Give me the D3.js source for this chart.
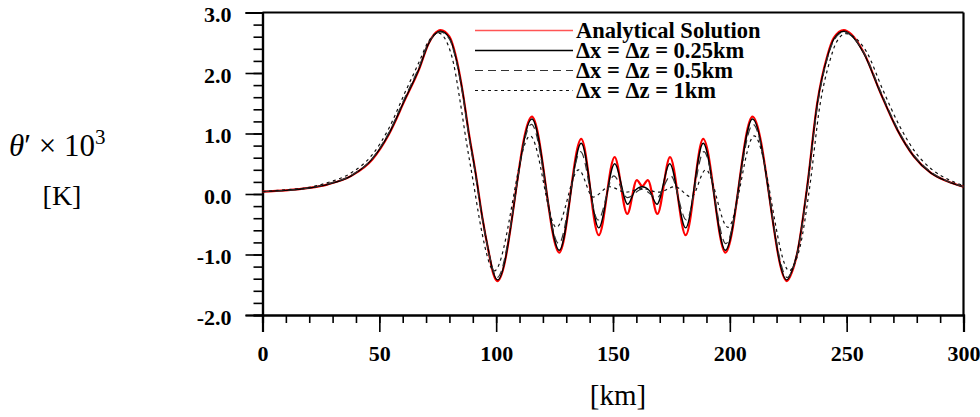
<!DOCTYPE html>
<html>
<head>
<meta charset="utf-8">
<script src="https://cdn.jsdelivr.net/npm/d3@7"></script>
<style>
  body { margin: 0; background: #fff; }
  svg { display: block; }
</style>
</head>
<body>
<svg width="980" height="417"></svg>
<script>
// values: [km, theta' x 1e3]
const analytical = [[0,0.04],[10,0.06],[20,0.10],[28,0.16],[38,0.30],[47,0.57],[54,0.98],[61,1.56],[67,2.06],[71,2.48],[73.5,2.64],[76.2,2.71],[80,2.60],[82.6,2.30],[85.5,1.73],[88.3,1.01],[91.2,0.35],[94,-0.37],[96.9,-0.98],[98.8,-1.32],[100.6,-1.44],[115.3,1.28],[127,-0.97],[136.4,0.91],[143.9,-0.68],[150.7,0.61],[156.1,-0.33],[160.2,0.23],[162.5,0.13],[164.9,0.23],[169,-0.33],[174.4,0.61],[181.1,-0.68],[188.6,0.91],[198.1,-0.97],[209.7,1.28],[224.4,-1.44],[226.5,-1.30],[229,-0.95],[233.1,0.12],[237.4,1.50],[241.7,2.28],[244.5,2.58],[248.8,2.71],[252,2.64],[257.4,2.33],[264.5,1.67],[271.7,1.06],[278.8,0.62],[286,0.35],[293.1,0.21],[300,0.12]];
const dx025 = [[0,0.04],[10,0.06],[20,0.10],[28,0.16],[38,0.30],[47,0.58],[54,0.99],[61,1.57],[67,2.07],[71,2.48],[73.5,2.63],[76.2,2.69],[80,2.58],[82.6,2.28],[85.5,1.72],[88.3,1.00],[91.2,0.34],[94,-0.37],[96.9,-0.97],[98.8,-1.30],[100.6,-1.42],[115.3,1.24],[127,-0.93],[136.4,0.84],[143.9,-0.56],[150.7,0.50],[156.3,-0.17],[159.5,0.06],[162.5,0.12],[165.5,0.06],[168.8,-0.17],[174.3,0.50],[181.1,-0.56],[188.6,0.84],[198.1,-0.93],[209.7,1.24],[224.4,-1.42],[226.5,-1.28],[229,-0.94],[233.1,0.12],[237.4,1.49],[241.7,2.26],[244.5,2.56],[248.8,2.69],[252,2.62],[257.4,2.32],[264.5,1.67],[271.7,1.06],[278.8,0.62],[286,0.35],[293.1,0.21],[300,0.12]];
const dx05 = [[0,0.04],[10,0.06],[20,0.10],[28,0.17],[38,0.31],[47,0.59],[54,1.01],[61,1.60],[67,2.10],[71,2.50],[73.5,2.63],[76,2.68],[80,2.56],[82.6,2.25],[85.5,1.68],[88.3,0.96],[91.2,0.30],[94,-0.40],[96.9,-0.98],[98.8,-1.27],[100.4,-1.38],[115.1,1.15],[126.8,-0.82],[136.1,0.70],[143.6,-0.43],[150.3,0.30],[156.2,-0.06],[162.5,0.08],[168.8,-0.06],[174.7,0.30],[181.4,-0.43],[188.9,0.70],[198.3,-0.82],[209.9,1.15],[224.6,-1.38],[226.6,-1.27],[229,-0.96],[233.2,0.10],[237.5,1.46],[241.8,2.25],[244.7,2.55],[249,2.68],[252.2,2.61],[257.6,2.32],[264.7,1.68],[271.9,1.07],[279,0.63],[286.2,0.36],[293.2,0.21],[300,0.12]];
const dx1 = [[0,0.04],[10,0.07],[20,0.11],[28,0.19],[38,0.35],[47,0.65],[54,1.08],[61,1.68],[67,2.18],[71,2.52],[73,2.62],[75.3,2.66],[79,2.50],[81.8,2.15],[84.5,1.55],[87.3,0.85],[90.2,0.20],[93,-0.45],[95.8,-0.97],[97.6,-1.20],[99.2,-1.27],[114.6,0.96],[125.8,-0.55],[135.3,0.40],[141.5,-0.05],[148.5,0.12],[155.5,0.03],[162.5,0.09],[169.5,0.03],[176.5,0.12],[183.5,-0.05],[189.7,0.40],[199.2,-0.55],[210.4,0.96],[225.5,-1.27],[227.3,-1.18],[230,-0.88],[234.2,0.12],[238.5,1.45],[242.8,2.20],[245.5,2.50],[249.6,2.65],[253,2.60],[258.5,2.35],[265.5,1.72],[272.7,1.12],[279.8,0.67],[287,0.39],[294,0.23],[300,0.14]];

const seriesNames = ["Analytical Solution", "\u0394x = \u0394z = 0.25km", "\u0394x = \u0394z = 0.5km", "\u0394x = \u0394z = 1km"];
const xMajor = [0, 50, 100, 150, 200, 250, 300];
const xMinor = d3.range(0, 301, 10);
const yMajor = [-2, -1, 0, 1, 2, 3];
const yMinor = d3.range(-2, 3.01, 0.2);

const svg = d3.select("svg");
const serif = "'Liberation Serif', 'Times New Roman', serif";

const x = d3.scaleLinear().domain([0, 300]).range([262.5, 963.5]);
const y = d3.scaleLinear().domain([-2, 3]).range([315, 12.5]);

// axes: minor then major ticks, outward
const gx = svg.append("g").attr("transform", "translate(0,315)");
gx.call(d3.axisBottom(x).tickValues(xMinor).tickSize(8).tickFormat(""));
gx.append("g").call(d3.axisBottom(x).tickValues(xMajor).tickSize(17).tickPadding(13).tickFormat(d => d));

const gy = svg.append("g").attr("transform", "translate(262.5,0)");
gy.call(d3.axisLeft(y).tickValues(yMinor).tickSize(9).tickFormat(""));
gy.append("g").call(d3.axisLeft(y).tickValues(yMajor).tickSize(17).tickPadding(14).tickFormat(d => d.toFixed(1)));

svg.selectAll(".domain").attr("stroke-width", 2.2);
svg.selectAll(".tick line").attr("stroke-width", 1.6);
svg.selectAll(".tick text")
    .attr("font-family", serif)
    .attr("font-weight", "bold")
    .attr("font-size", 22)
    .attr("fill", "#000");
gy.selectAll(".tick text").attr("dy", "0.42em");

// top and right frame
svg.append("line").attr("x1", x(0)).attr("x2", x(300)).attr("y1", y(3)).attr("y2", y(3))
    .attr("stroke", "#000").attr("stroke-width", 2.2);
svg.append("line").attr("x1", x(300)).attr("x2", x(300)).attr("y1", y(3)).attr("y2", y(-2))
    .attr("stroke", "#000").attr("stroke-width", 2.2);

const line = d3.line()
    .x(d => x(d[0]))
    .y(d => y(d[1]))
    .curve(d3.curveMonotoneX);

const styles = [
    {data: analytical, color: "#ff0000", width: 2.2, dash: null},
    {data: dx025, color: "#000", width: 1.4, dash: null},
    {data: dx05, color: "#333", width: 1.2, dash: "8,5"},
    {data: dx1, color: "#111", width: 1.2, dash: "3,3.5"}
];

styles.forEach(s => {
    svg.append("path")
        .datum(s.data)
        .attr("d", line)
        .attr("fill", "none")
        .attr("stroke", s.color)
        .attr("stroke-width", s.width)
        .attr("stroke-dasharray", s.dash);
});

// legend
const leg = svg.append("g");
styles.forEach((s, i) => {
    const ly = 30.5 + i * 20;
    leg.append("line")
        .attr("x1", 475).attr("x2", 573).attr("y1", ly).attr("y2", ly)
        .attr("stroke", i == 0 ? "#ff5555" : s.color)
        .attr("stroke-width", i == 0 ? 1.4 : s.width)
        .attr("stroke-dasharray", s.dash);
    leg.append("text")
        .attr("x", 576).attr("y", ly + 7)
        .attr("font-family", serif)
        .attr("font-weight", "bold")
        .attr("font-size", 22.5)
        .text(seriesNames[i]);
});

// axis titles
const yl = svg.append("text")
    .attr("x", 9).attr("y", 156)
    .attr("font-family", serif)
    .attr("font-size", 31);
yl.append("tspan").attr("font-style", "italic").text("\u03b8");
yl.append("tspan").text("\u2032 \u00d7 10");
yl.append("tspan").attr("font-size", 21).attr("dy", -12).text("3");

svg.append("text")
    .attr("x", 62).attr("y", 205)
    .attr("text-anchor", "middle")
    .attr("font-family", serif)
    .attr("font-size", 28)
    .text("[K]");

svg.append("text")
    .attr("x", 618).attr("y", 405)
    .attr("text-anchor", "middle")
    .attr("font-family", serif)
    .attr("font-size", 29)
    .text("[km]");
</script>
</body>
</html>
